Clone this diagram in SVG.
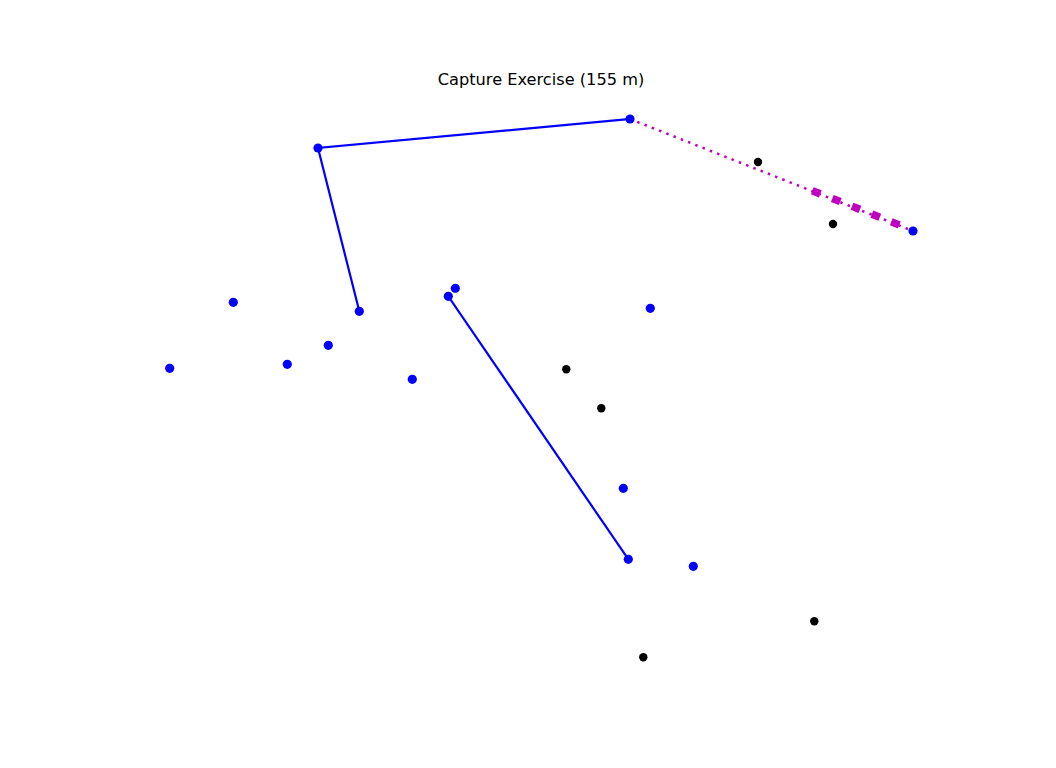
<svg xmlns="http://www.w3.org/2000/svg" width="1056" height="768" viewBox="0 0 1056 768">
<style>
.bl{fill:#0000ff}
.bk{fill:#000000}
.path{stroke:#0000ff;stroke-width:2.2;fill:none;stroke-linecap:square}
.dot{stroke:#bf00bf;stroke-width:2.5;fill:none;stroke-dasharray:2.5 5.3}
.sq{fill:#bf00bf}
.title{font-family:"DejaVu Sans",sans-serif;font-size:16.2px;fill:#000}
</style>
<rect width="1056" height="768" fill="#ffffff"/>
<text class="title" x="541" y="85" text-anchor="middle">Capture Exercise (155 m)</text>
<g id="connectors">
<polyline class="path" points="359.3,311.3 318,148 630,119"/>
<line class="path" x1="448.3" y1="296.3" x2="628.3" y2="559.3"/>
<line class="dot" x1="630" y1="119" x2="913" y2="231"/>
<g transform="rotate(21.6 816.3 192.3)"><rect class="sq" x="812" y="188.5" width="8.6" height="7.6"/></g>
<g transform="rotate(21.6 836.3 200)"><rect class="sq" x="832" y="196.2" width="8.6" height="7.6"/></g>
<g transform="rotate(21.6 856 207.8)"><rect class="sq" x="851.7" y="204" width="8.6" height="7.6"/></g>
<g transform="rotate(21.6 875.8 215.7)"><rect class="sq" x="871.5" y="211.9" width="8.6" height="7.6"/></g>
<g transform="rotate(21.6 895.3 223.4)"><rect class="sq" x="891" y="219.6" width="8.6" height="7.6"/></g>
</g>
<g id="node-b1"><circle class="bl" cx="318" cy="148" r="4.6"/></g>
<g id="node-b2"><circle class="bl" cx="630" cy="119" r="4.6"/></g>
<g id="node-b3"><circle class="bl" cx="913" cy="231" r="4.6"/></g>
<g id="node-b4"><circle class="bl" cx="233.3" cy="302.3" r="4.6"/></g>
<g id="node-b5"><circle class="bl" cx="169.7" cy="368.3" r="4.6"/></g>
<g id="node-b6"><circle class="bl" cx="287.3" cy="364.3" r="4.6"/></g>
<g id="node-b7"><circle class="bl" cx="328.3" cy="345.3" r="4.6"/></g>
<g id="node-b8"><circle class="bl" cx="359.3" cy="311.3" r="4.6"/></g>
<g id="node-b9"><circle class="bl" cx="455.3" cy="288.3" r="4.6"/></g>
<g id="node-b10"><circle class="bl" cx="448.3" cy="296.3" r="4.6"/></g>
<g id="node-b11"><circle class="bl" cx="412.3" cy="379.3" r="4.6"/></g>
<g id="node-b12"><circle class="bl" cx="650.3" cy="308.3" r="4.6"/></g>
<g id="node-b13"><circle class="bl" cx="623.3" cy="488.3" r="4.6"/></g>
<g id="node-b14"><circle class="bl" cx="628.3" cy="559.3" r="4.6"/></g>
<g id="node-b15"><circle class="bl" cx="693.3" cy="566.3" r="4.6"/></g>
<g id="node-k1"><circle class="bk" cx="758" cy="162" r="4.2"/></g>
<g id="node-k2"><circle class="bk" cx="833" cy="224" r="4.2"/></g>
<g id="node-k3"><circle class="bk" cx="566.3" cy="369.3" r="4.2"/></g>
<g id="node-k4"><circle class="bk" cx="601.3" cy="408.3" r="4.2"/></g>
<g id="node-k5"><circle class="bk" cx="814.3" cy="621.3" r="4.2"/></g>
<g id="node-k6"><circle class="bk" cx="643.3" cy="657.3" r="4.2"/></g>
</svg>
